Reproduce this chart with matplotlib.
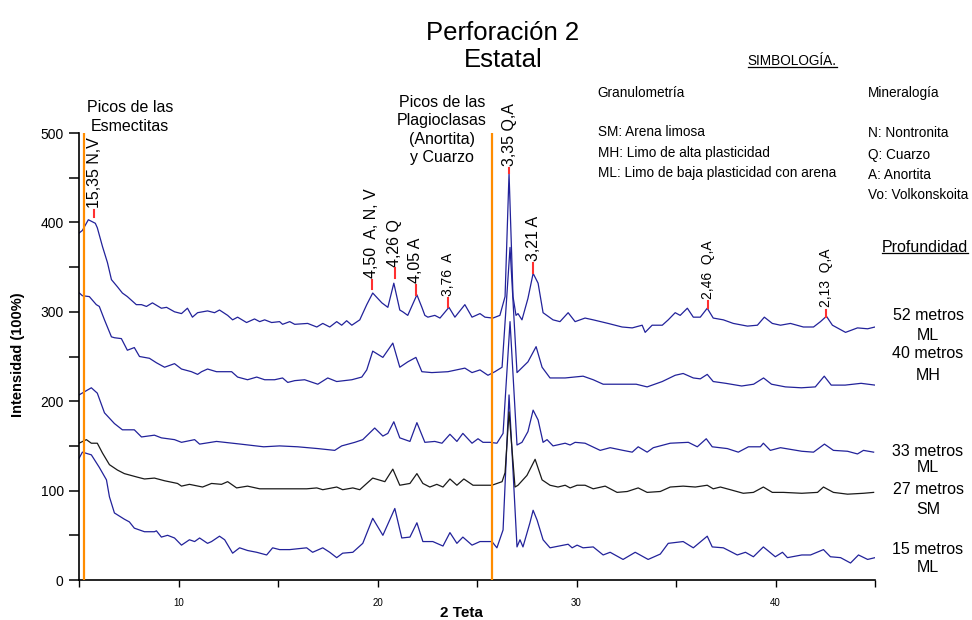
import numpy as np
import matplotlib
matplotlib.use("Agg")
import matplotlib.pyplot as plt
from matplotlib.lines import Line2D

plt.rcParams['font.family'] = ['Liberation Sans', 'DejaVu Sans']

# curvas (2 teta, intensidad)
m52 = np.array([
    (5.0, 388), (5.17, 391), (5.47, 403), (5.82, 399), (5.92, 394), (6.18, 373), (6.43, 355), (6.63, 336),
    (6.93, 328), (7.18, 321), (7.43, 317), (7.88, 308), (8.14, 308), (8.39, 306), (8.69, 310), (9.14, 304),
    (9.40, 305), (9.80, 300), (10.15, 298), (10.45, 304), (10.70, 294), (10.96, 299), (11.46, 301), (11.81, 299),
    (12.06, 302), (12.47, 296), (12.72, 291), (12.97, 294), (13.42, 288), (13.82, 292), (14.08, 289), (14.33, 291),
    (14.68, 288), (15.08, 289), (15.23, 286), (15.59, 289), (15.84, 286), (16.49, 287), (16.95, 283), (17.25, 287),
    (17.60, 283), (17.95, 289), (18.20, 285), (18.45, 290), (18.71, 285), (19.11, 291), (19.46, 308), (19.76, 321),
    (20.22, 310), (20.52, 305), (20.82, 332), (21.12, 302), (21.27, 300), (21.52, 296), (21.98, 319), (22.23, 305),
    (22.38, 296), (22.53, 294), (22.88, 296), (23.14, 293), (23.59, 305), (23.89, 294), (24.39, 308), (24.75, 294),
    (25.15, 298), (25.40, 294), (25.80, 293), (26.15, 296), (26.41, 317), (26.61, 455), (26.81, 317), (26.96, 296),
    (27.06, 298), (27.26, 291), (27.56, 315), (27.82, 343), (28.07, 332), (28.32, 299), (28.82, 291), (29.17, 289),
    (29.58, 299), (29.93, 289), (30.43, 293), (30.84, 291), (31.59, 287), (32.29, 283), (32.80, 282), (33.30, 285),
    (33.45, 277), (33.80, 285), (34.31, 285), (34.61, 291), (34.96, 299), (35.21, 296), (35.57, 304), (35.87, 294),
    (36.22, 294), (36.57, 304), (36.87, 293), (37.38, 291), (37.88, 287), (38.59, 284), (39.09, 285), (39.44, 294),
    (39.84, 287), (40.25, 285), (40.75, 287), (41.40, 283), (41.91, 283), (42.26, 289), (42.56, 295), (42.86, 285),
    (43.52, 277), (44.12, 282), (44.63, 281), (45.0, 283)])

m40 = np.array([
    (5.02, 321), (5.17, 318), (5.52, 317), (5.87, 308), (6.02, 306), (6.28, 291), (6.63, 272), (6.78, 271),
    (7.13, 270), (7.43, 257), (7.78, 260), (8.04, 250), (8.54, 248), (8.89, 243), (9.30, 238), (9.80, 242),
    (10.15, 236), (10.65, 233), (10.96, 230), (11.16, 233), (11.46, 236), (11.91, 233), (12.32, 233), (12.67, 233),
    (12.97, 227), (13.47, 224), (13.93, 227), (14.33, 224), (14.83, 224), (15.23, 226), (15.49, 221), (15.84, 223),
    (16.34, 224), (17.00, 219), (17.50, 226), (17.95, 222), (18.71, 224), (19.21, 227), (19.46, 235), (19.76, 256),
    (20.27, 249), (20.77, 265), (21.12, 238), (21.52, 244), (21.93, 249), (22.23, 233), (22.73, 232), (23.54, 233),
    (24.39, 237), (24.75, 232), (25.15, 235), (25.55, 229), (25.90, 233), (26.26, 238), (26.66, 372), (27.01, 232),
    (27.56, 244), (27.97, 261), (28.27, 238), (28.67, 226), (29.43, 226), (30.33, 228), (30.84, 224), (31.34, 219),
    (32.20, 219), (33.00, 219), (33.55, 216), (34.31, 222), (34.96, 229), (35.36, 231), (35.87, 226), (36.22, 225),
    (36.57, 230), (36.87, 222), (37.50, 220), (38.30, 217), (38.90, 219), (39.40, 226), (39.80, 219), (40.50, 216),
    (41.30, 215), (42.00, 216), (42.45, 228), (42.80, 218), (43.50, 218), (44.30, 220), (45.0, 218)])

m33 = np.array([
    (5.0, 207), (5.62, 215), (5.92, 209), (6.28, 187), (6.78, 175), (7.18, 168), (7.78, 168), (8.14, 160),
    (8.79, 162), (9.14, 159), (9.80, 157), (10.15, 154), (10.81, 157), (11.06, 152), (11.91, 155), (13.12, 152),
    (14.28, 149), (15.08, 150), (15.99, 149), (17.00, 147), (17.85, 145), (18.20, 150), (18.86, 154), (19.26, 157),
    (19.86, 170), (20.27, 161), (20.52, 164), (20.82, 177), (21.12, 159), (21.63, 155), (21.98, 176), (22.38, 154),
    (22.88, 155), (23.24, 153), (23.64, 163), (23.99, 155), (24.29, 164), (24.75, 153), (25.05, 158), (25.30, 154),
    (25.65, 154), (26.00, 153), (26.31, 164), (26.66, 289), (27.01, 151), (27.26, 154), (27.56, 166), (27.82, 190),
    (28.07, 179), (28.32, 154), (28.52, 157), (28.82, 150), (29.43, 153), (29.68, 151), (29.93, 154), (30.43, 153),
    (31.19, 145), (31.69, 148), (32.34, 145), (32.80, 143), (33.10, 149), (33.55, 143), (33.86, 148), (34.71, 153),
    (35.62, 154), (36.07, 149), (36.52, 158), (36.82, 149), (37.58, 147), (38.13, 143), (38.64, 149), (39.24, 149),
    (39.39, 153), (39.74, 145), (40.25, 148), (41.32, 144), (41.91, 143), (42.46, 152), (42.91, 145), (43.62, 144),
    (44.12, 141), (44.42, 145), (44.93, 143)])

m27 = np.array([
    (5.0, 153), (5.37, 157), (5.62, 153), (5.92, 153), (6.18, 142), (6.53, 129), (6.93, 123), (7.28, 119),
    (7.94, 115), (8.29, 113), (8.79, 114), (9.30, 111), (9.95, 108), (10.15, 105), (10.55, 107), (11.21, 104),
    (11.66, 108), (12.16, 107), (12.47, 110), (12.92, 103), (13.47, 105), (14.08, 102), (15.08, 102), (16.44, 102),
    (16.95, 103), (17.25, 101), (17.95, 104), (18.25, 101), (18.76, 103), (19.11, 101), (19.76, 114), (20.37, 110),
    (20.77, 124), (21.12, 106), (21.63, 108), (21.98, 119), (22.28, 108), (22.63, 104), (22.98, 107), (23.29, 104),
    (23.64, 113), (23.99, 106), (24.34, 113), (24.80, 106), (25.75, 106), (26.26, 110), (26.41, 120), (26.61, 188),
    (26.91, 104), (27.06, 106), (27.51, 117), (27.92, 135), (28.27, 112), (28.67, 106), (29.07, 104), (29.43, 106),
    (29.68, 103), (30.03, 106), (30.43, 106), (30.84, 102), (31.44, 105), (32.04, 98), (32.55, 99), (33.10, 103),
    (33.55, 98), (34.21, 99), (34.71, 104), (35.36, 105), (35.97, 104), (36.57, 106), (36.87, 102), (37.23, 104),
    (37.73, 101), (38.38, 97), (38.89, 98), (39.39, 104), (39.84, 98), (40.40, 98), (41.32, 97), (42.11, 98),
    (42.41, 104), (42.91, 98), (43.62, 96), (44.42, 97), (44.93, 98)])

m15 = np.array([
    (5.0, 136), (5.17, 143), (5.62, 140), (6.02, 126), (6.38, 112), (6.53, 93), (6.78, 75), (7.28, 68),
    (7.53, 65), (7.78, 58), (8.29, 54), (8.79, 54), (8.89, 55), (9.14, 48), (9.45, 50), (9.80, 47),
    (10.15, 39), (10.55, 45), (10.81, 43), (11.06, 47), (11.46, 41), (11.66, 43), (12.06, 49), (12.32, 45),
    (12.72, 30), (13.07, 36), (13.47, 33), (13.93, 31), (14.43, 28), (14.73, 36), (15.08, 34), (15.59, 34),
    (16.44, 36), (16.74, 31), (17.25, 36), (17.60, 31), (17.95, 25), (18.25, 30), (18.76, 31), (19.26, 41),
    (19.76, 69), (20.27, 50), (20.87, 80), (21.22, 47), (21.63, 48), (21.98, 64), (22.28, 43), (22.78, 43),
    (23.29, 38), (23.64, 53), (23.99, 41), (24.29, 48), (24.75, 39), (25.15, 43), (25.75, 43), (26.00, 36),
    (26.31, 56), (26.61, 207), (27.01, 37), (27.16, 45), (27.31, 37), (27.66, 64), (27.82, 78), (28.02, 67),
    (28.32, 45), (28.67, 36), (29.58, 40), (29.78, 36), (30.03, 39), (30.33, 36), (30.84, 37), (31.34, 28),
    (31.69, 31), (32.34, 23), (32.95, 31), (33.60, 23), (34.21, 29), (34.61, 41), (35.36, 43), (35.87, 36),
    (36.57, 49), (36.82, 37), (37.38, 36), (38.08, 28), (38.49, 31), (38.89, 26), (39.39, 37), (39.99, 26),
    (40.35, 31), (40.60, 25), (41.32, 28), (41.76, 28), (42.41, 34), (42.76, 26), (43.27, 25), (43.77, 19),
    (44.17, 28), (44.63, 23), (45.0, 25)])

curvas = [m15, m27, m33, m40, m52]
colores = ['#22229a', '#1a1a1a', '#22229a', '#22229a', '#22229a']

# picos marcados
pico_x = [5.77, 19.71, 20.87, 21.93, 23.54, 26.61, 27.82, 36.62, 42.56]
pico_y0 = [406, 325, 338, 319, 305, 455, 343, 304, 294]
pico_y1 = [414, 336, 349, 330, 315, 461, 355, 312, 302]
pico_txt = ['15,35 N,V', '4,50  A, N, V', '4,26 Q', '4,05 A', '3,76  A', '3,35 Q,A', '3,21 A', '2,46  Q,A', '2,13  Q,A']
pico_txt_y = [416, 338, 350, 332, 318, 463, 357, 314, 305]
pico_size = [11.5, 11.5, 11.5, 11.5, 10, 11.5, 11.5, 10, 10]

lineas_naranja = [5.24, 25.75]

prof_txt = [('52 metros', 'ML'), ('40 metros', 'MH'), ('33 metros', 'ML'), ('27 metros', 'SM'), ('15 metros', 'ML')]
prof_py = [(316, 335), (354, 375), (452, 468), (490, 510), (550, 568)]

granulo = ['SM: Arena limosa', 'MH: Limo de alta plasticidad', 'ML: Limo de baja plasticidad con arena']
mineral = ['N: Nontronita', 'Q: Cuarzo', 'A: Anortita', 'Vo: Volkonskoita']

W, H = 972, 620
fig = plt.figure(figsize=(9.72, 6.2), dpi=100)
ax = fig.add_axes([79 / W, 40 / H, 796 / W, 447 / H])

for c, col in zip(curvas, colores):
    ax.plot(c[:, 0], c[:, 1], color=col, lw=0.9)

for xv in lineas_naranja:
    ax.axvline(xv, color='#ff8c00', lw=1.6, zorder=5)

for xp, y0, y1, t, ty, fs in zip(pico_x, pico_y0, pico_y1, pico_txt, pico_txt_y, pico_size):
    ax.plot([xp, xp], [y0, y1], color='#ff3030', lw=1.5, zorder=6)
    ax.text(xp, ty, t, rotation=90, ha='center', va='bottom', fontsize=fs)

ax.set_xlim(5, 45)
ax.set_ylim(0, 500)
ax.set_xticks([10, 20, 30, 40])
ax.set_xticks([5, 15, 25, 35, 45], minor=True)
ax.set_yticks([0, 100, 200, 300, 400, 500])
ax.set_yticks([50, 150, 250, 350, 450], minor=True)
ax.tick_params(axis='x', which='both', length=5, width=1, labelsize=7, pad=8)
ax.tick_params(axis='y', which='both', length=7, width=1.1, labelsize=10, pad=4)
for s in ['top', 'right']:
    ax.spines[s].set_visible(False)
for s in ['left', 'bottom']:
    ax.spines[s].set_linewidth(1.2)

ax.text((461 - 79) / 796, (580 - 613) / 447, '2 Teta', transform=ax.transAxes,
        ha='center', va='center', fontsize=11, fontweight='bold')
ax.text((18 - 79) / 796, (580 - 355) / 447, 'Intensidad (100%)', transform=ax.transAxes,
        ha='center', va='center', rotation=90, fontsize=10.5, fontweight='bold')

def fx(px):
    return px / W

def fy(py):
    return (H - py) / H

fig.text(fx(503), fy(33), 'Perforación 2', ha='center', va='center', fontsize=18.5)
fig.text(fx(503), fy(60), 'Estatal', ha='center', va='center', fontsize=18.5)

fig.text(fx(130), fy(117), 'Picos de las\nEsmectitas', ha='center', va='center',
         fontsize=11.5, linespacing=1.3)
fig.text(fx(442), fy(130), 'Picos de las\nPlagioclasas\n(Anortita)\ny Cuarzo', ha='center',
         va='center', fontsize=11.5, linespacing=1.3)

subrayados = []
subrayados.append(fig.text(fx(792), fy(61), 'SIMBOLOGÍA.', ha='center', va='center', fontsize=9.8))
subrayados.append(fig.text(fx(925), fy(247), 'Profundidad', ha='center', va='center', fontsize=11.5))

fig.text(fx(597), fy(93), 'Granulometría', ha='left', va='center', fontsize=9.8)
for t, py in zip(granulo, [132, 153, 173]):
    fig.text(fx(598), fy(py), t, ha='left', va='center', fontsize=9.8)
fig.text(fx(868), fy(93), 'Mineralogía', ha='left', va='center', fontsize=9.8)
for t, py in zip(mineral, [133, 155, 175, 195]):
    fig.text(fx(868), fy(py), t, ha='left', va='center', fontsize=9.8)

for (a, b), (p1, p2) in zip(prof_txt, prof_py):
    fig.text(fx(928), fy(p1), a, ha='center', va='center', fontsize=11.5)
    fig.text(fx(928), fy(p2), b, ha='center', va='center', fontsize=11.5)

fig.canvas.draw()
inv = fig.transFigure.inverted()
for t in subrayados:
    bb = t.get_window_extent()
    (x0, y0), (x1, _) = inv.transform([(bb.x0, bb.y0 + 1), (bb.x1, bb.y0 + 1)])
    fig.add_artist(Line2D([x0, x1], [y0, y0], color='black', lw=0.9))

fig.savefig('out.png', dpi=100)
